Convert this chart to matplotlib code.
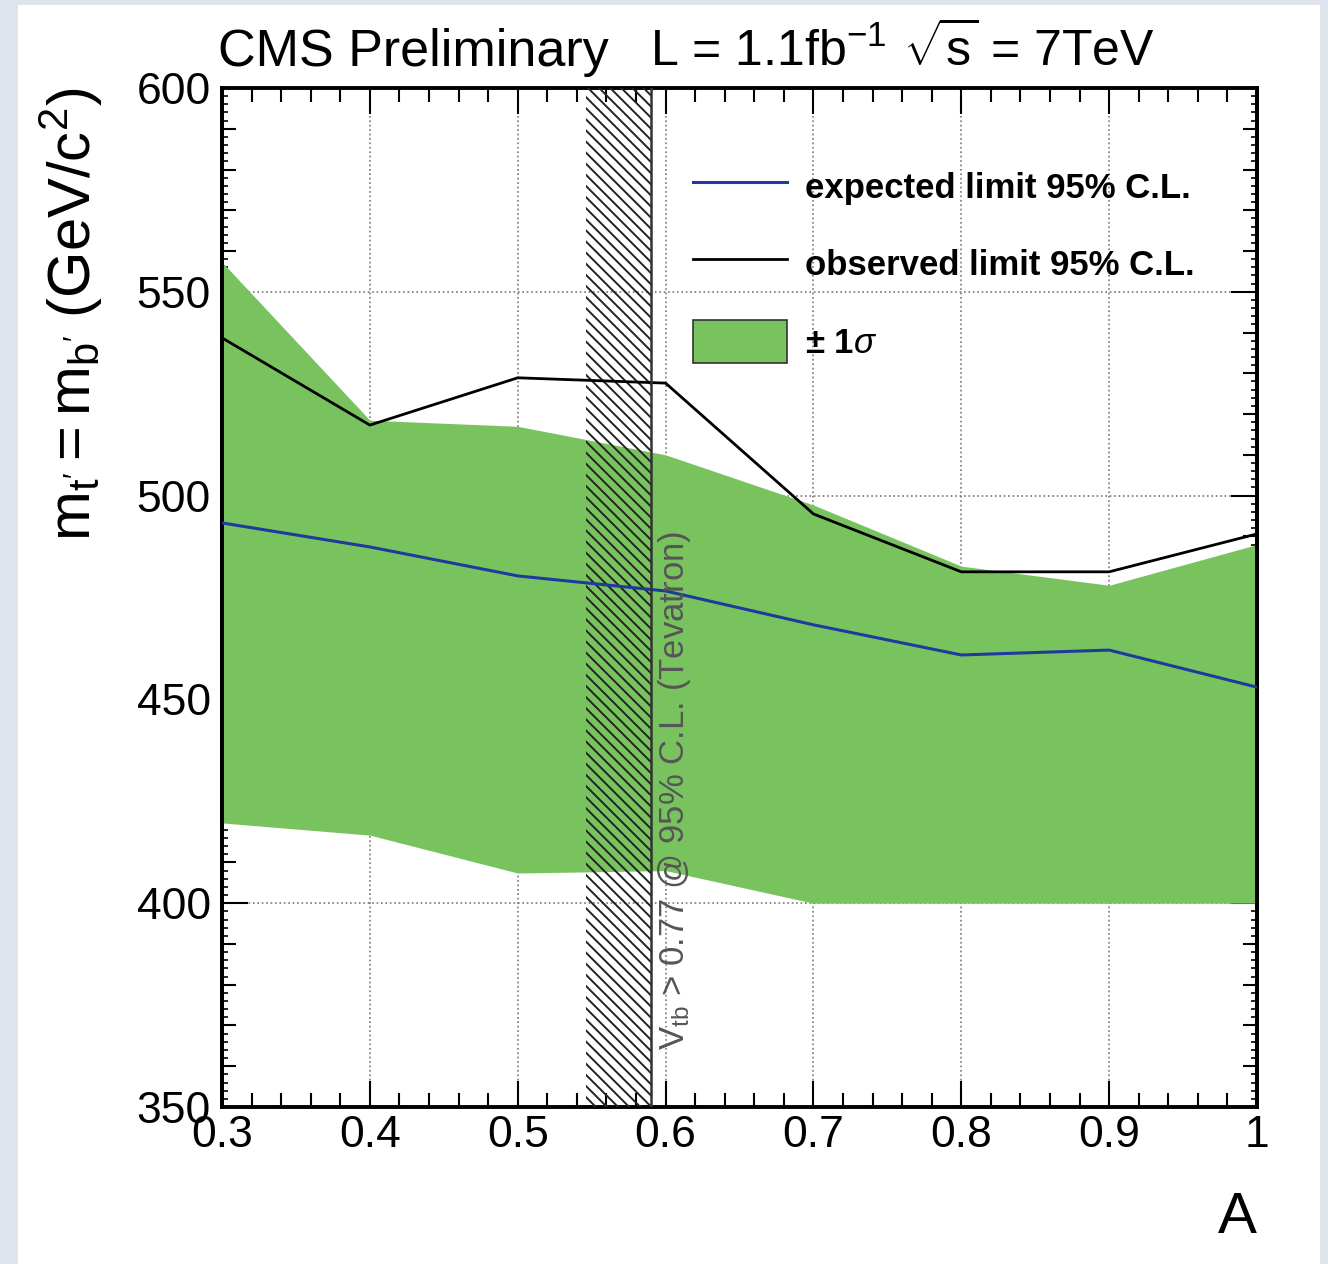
import matplotlib
matplotlib.use("Agg")
import matplotlib.pyplot as plt
from matplotlib.patches import Rectangle, Patch
from matplotlib.lines import Line2D
from matplotlib.ticker import MultipleLocator, NullFormatter

plt.rcParams['font.family'] = ['Liberation Sans', 'DejaVu Sans']
plt.rcParams['mathtext.fontset'] = 'custom'
plt.rcParams['mathtext.rm'] = 'Liberation Sans'
plt.rcParams['mathtext.it'] = 'Liberation Sans:italic'
plt.rcParams['mathtext.bf'] = 'Liberation Sans:bold'
plt.rcParams['hatch.linewidth'] = 1.4

# mixing parameter A and mass limits (GeV/c^2)
A = [0.3, 0.4, 0.5, 0.6, 0.7, 0.8, 0.9, 1.0]
expected = [493.3, 487.4, 480.3, 476.6, 468.3, 460.9, 462.1, 453.0]
observed = [538.7, 517.3, 528.9, 527.6, 495.5, 481.3, 481.3, 490.6]
band_hi = [557.3, 518.5, 517.0, 510.0, 497.7, 482.7, 478.0, 488.0]
band_lo = [419.7, 416.7, 407.4, 408.0, 400.0, 400.0, 400.0, 400.0]

# Tevatron |V_tb| exclusion
vtb_lo, vtb_hi = 0.546, 0.590

green = '#79c35f'
blue = '#1f3a9c'

fig = plt.figure(figsize=(13.28, 12.64), dpi=100, facecolor='#dde4ec')
fig.patches.append(Rectangle((18 / 1328, 0), 1302 / 1328, 1259 / 1264,
                             transform=fig.transFigure, facecolor='white',
                             edgecolor='none', zorder=-10))

ax = fig.add_axes([222 / 1328, 1 - 1107 / 1264, 1035 / 1328, 1019 / 1264])
ax.set_facecolor('none')

ax.fill_between(A, band_lo, band_hi, color=green, lw=0, zorder=2)
ax.plot(A, expected, color=blue, lw=2.2, zorder=4)
ax.plot(A, observed, color='black', lw=2.0, zorder=4)

ax.axvspan(vtb_lo, vtb_hi, facecolor='none', edgecolor='#222222',
           hatch='\\\\\\', lw=0, zorder=3)
ax.axvline(vtb_hi, color='#333333', lw=1.8, zorder=4)
ax.text(0.5935, 364, r'$\mathrm{V_{tb}}$ > 0.77 @ 95% C.L. (Tevatron)',
        rotation=90, ha='left', va='bottom', fontsize=25, color='#555555',
        zorder=5)

ax.set_xlim(0.3, 1.0)
ax.set_ylim(350, 600)
ax.xaxis.set_minor_locator(MultipleLocator(0.02))
ax.yaxis.set_major_locator(MultipleLocator(50))
ax.yaxis.set_minor_locator(MultipleLocator(10))
ax.set_xticks([0.3, 0.4, 0.5, 0.6, 0.7, 0.8, 0.9, 1.0])
ax.set_xticklabels(['0.3', '0.4', '0.5', '0.6', '0.7', '0.8', '0.9', '1'])

ax.tick_params(which='both', direction='in', top=True, right=True, width=1.5)
ax.tick_params(which='major', length=19, labelsize=32)
ax.tick_params(which='minor', length=10)
ax.tick_params(axis='x', which='major', pad=6)
ax.tick_params(axis='y', which='major', pad=8)
for s in ax.spines.values():
    s.set_linewidth(2.8)

# fine y ticks every 2 GeV on both sides
for side in ('left', 'right'):
    sec = ax.secondary_yaxis(side)
    sec.yaxis.set_major_locator(MultipleLocator(2))
    sec.yaxis.set_major_formatter(NullFormatter())
    sec.tick_params(direction='in', length=4, width=1.2)
    sec.spines[side].set_linewidth(2.8)

ax.grid(True, which='major', ls=':', color='#777777', lw=1.2)
ax.set_axisbelow(True)

ax.set_ylabel(r"$\mathrm{m_{t'} = m_{b'}}$ (GeV/c$^{2}$)", fontsize=43,
              loc='top')
ax.yaxis.set_label_coords(-0.113, 1.0)
ax.set_xlabel('A', fontsize=42, loc='right')
ax.xaxis.set_label_coords(1.0, -0.082)

handles = [Line2D([], [], color=blue, lw=2.2),
           Line2D([], [], color='black', lw=2.0),
           Patch(facecolor=green, edgecolor='#333333', lw=1.2)]
labels = ['expected limit 95% C.L.', 'observed limit 95% C.L.', r'± 1$\sigma$']
ax.legend(handles, labels, loc='upper left', bbox_to_anchor=(0.455, 0.924),
          frameon=False, borderpad=0, borderaxespad=0, handlelength=2.7,
          handleheight=1.53, handletextpad=0.52, labelspacing=0.98,
          prop={'weight': 'bold', 'size': 25})

ty = 1 - 66 / 1264
fig.text(218 / 1328, ty, 'CMS Preliminary', fontsize=37.5, va='baseline')
fig.text(650 / 1328, ty, r'L = 1.1fb$^{-1}$', fontsize=36, va='baseline')
fig.text(903 / 1328, ty, r'$\sqrt{\mathrm{s}}$ = 7TeV', fontsize=36,
         va='baseline')

fig.savefig('out.png', dpi=100, facecolor=fig.get_facecolor())
